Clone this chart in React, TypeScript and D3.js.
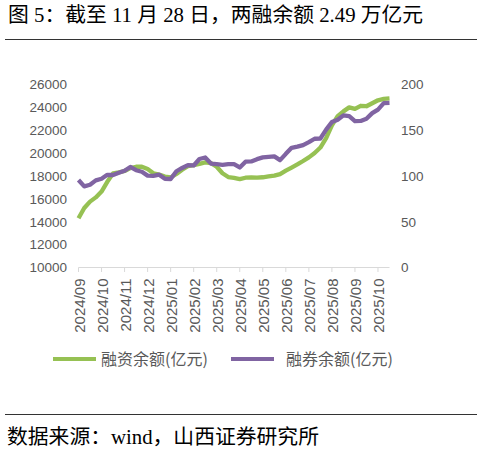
import React from "react";
import * as d3 from "d3";

const monthLabels = [
  "2024/09", "2024/10", "2024/11", "2024/12", "2025/01", "2025/02", "2025/03",
  "2025/04", "2025/05", "2025/06", "2025/07", "2025/08", "2025/09", "2025/10",
];

// weekly points (4 per month tick interval)
const marginBalance = [
  14300, 15200, 15760, 16130, 16640, 17490, 18230, 18310, 18440, 18690,
  18810, 18810, 18610, 18240, 18130, 17950, 17870, 18180, 18550, 18860,
  18940, 19060, 19190, 19130, 18810, 18240, 17910, 17840, 17720, 17850,
  17870, 17860, 17890, 17960, 18030, 18170, 18470, 18740, 19010, 19310,
  19630, 20010, 20490, 21320, 22430, 23240, 23650, 24000, 23870, 24140,
  24100, 24360, 24620, 24740, 24780,
];

const shortBalance = [
  95.6, 88.6, 90.4, 95.2, 97.0, 101.3, 101.1, 103.6, 105.7, 109.9,
  106.3, 104.6, 100.4, 100.1, 101.4, 96.9, 96.7, 105.2, 108.8, 111.9,
  111.5, 118.6, 120.2, 113.6, 112.9, 112.2, 112.9, 112.9, 109.3, 115.6,
  115.9, 118.4, 120.3, 120.9, 121.4, 117.3, 124.2, 130.8, 132.1, 133.8,
  137.0, 140.7, 141.0, 150.7, 159.0, 161.5, 166.3, 165.4, 159.9, 160.2,
  162.6, 168.7, 172.6, 179.6, 179.9,
];

const leftTicks = [10000, 12000, 14000, 16000, 18000, 20000, 22000, 24000, 26000];
const rightTicks = [0, 50, 100, 150, 200];

const seriesNames = ["融资余额(亿元)", "融券余额(亿元)"];
const titleText = "图 5：截至 11 月 28 日，两融余额 2.49 万亿元";
const sourceText = "数据来源：wind，山西证券研究所";

const GREEN = "#96C153";
const PURPLE = "#8064A2";
const AXIS_TEXT = "#595959";

export default function App() {
  const W = 482;
  const H = 455;
  const n = marginBalance.length;
  const x = d3.scaleLinear().domain([0, n - 1]).range([78.5, 389.5]);
  const yL = d3.scaleLinear().domain([10000, 26000]).range([267.5, 84.5]);
  const yR = d3.scaleLinear().domain([0, 200]).range([267.5, 84.5]);

  const lineL = d3
    .line<number>()
    .x((_, i) => x(i))
    .y((d) => yL(d));
  const lineR = d3
    .line<number>()
    .x((_, i) => x(i))
    .y((d) => yR(d));

  const tickIdx = monthLabels.map((_, i) => i * 4);
  const sansLatin = "'Liberation Sans', Arial, 'Noto Sans CJK SC', sans-serif";
  const cjkSans = "'Noto Sans CJK SC', 'Liberation Sans', sans-serif";
  const serif = "'Liberation Serif', 'Times New Roman', 'Noto Sans CJK SC', serif";

  return (
    <svg
      width={W}
      height={H}
      viewBox={`0 0 ${W} ${H}`}
      style={{ position: "absolute", left: 0, top: 0, background: "#fff" }}
    >
      <rect x={0} y={0} width={W} height={H} fill="#fff" />
      <text x={8} y={22} fontFamily={serif} fontSize={20.8} fill="#000">
        {titleText}
      </text>
      <line x1={5} x2={477} y1={39.5} y2={39.5} stroke="#333" strokeWidth={1} />

      {/* left axis labels */}
      {leftTicks.map((t) => (
        <text
          key={"l" + t}
          x={67}
          y={yL(t)}
          dy="0.36em"
          textAnchor="end"
          fontFamily={sansLatin}
          fontSize={13.5}
          fill={AXIS_TEXT}
        >
          {t}
        </text>
      ))}
      {/* right axis labels */}
      {rightTicks.map((t) => (
        <text
          key={"r" + t}
          x={401}
          y={yR(t)}
          dy="0.36em"
          textAnchor="start"
          fontFamily={sansLatin}
          fontSize={13.5}
          fill={AXIS_TEXT}
        >
          {t}
        </text>
      ))}

      {/* x axis */}
      <line
        x1={x(0)}
        x2={x(n - 1)}
        y1={267.5}
        y2={267.5}
        stroke="#D9D9D9"
        strokeWidth={1}
      />
      {tickIdx.map((ti) => (
        <line
          key={"t" + ti}
          x1={x(ti)}
          x2={x(ti)}
          y1={267.5}
          y2={272}
          stroke="#D9D9D9"
          strokeWidth={1}
        />
      ))}
      {monthLabels.map((lab, i) => (
        <text
          key={lab}
          transform={`translate(${x(tickIdx[i]) + 6.5},278.5) rotate(-90)`}
          textAnchor="end"
          fontFamily={sansLatin}
          fontSize={15}
          fill={AXIS_TEXT}
        >
          {lab}
        </text>
      ))}

      {/* lines */}
      <path
        d={lineL(marginBalance) || ""}
        fill="none"
        stroke={GREEN}
        strokeWidth={4.3}
        strokeLinejoin="round"
      />
      <path
        d={lineR(shortBalance) || ""}
        fill="none"
        stroke={PURPLE}
        strokeWidth={4.3}
        strokeLinejoin="round"
      />

      {/* legend */}
      <line x1={53} x2={96} y1={359} y2={359} stroke={GREEN} strokeWidth={4} />
      <text x={101} y={359} dy="0.36em" fontFamily={cjkSans} fontSize={16} fill={AXIS_TEXT}>
        {seriesNames[0]}
      </text>
      <line x1={231} x2={274} y1={359} y2={359} stroke={PURPLE} strokeWidth={4} />
      <text x={286} y={359} dy="0.36em" fontFamily={cjkSans} fontSize={16} fill={AXIS_TEXT}>
        {seriesNames[1]}
      </text>

      <line x1={5} x2={477} y1={414.5} y2={414.5} stroke="#333" strokeWidth={1} />
      <text x={7} y={444} fontFamily={serif} fontSize={20.8} fill="#000">
        {sourceText}
      </text>
    </svg>
  );
}
